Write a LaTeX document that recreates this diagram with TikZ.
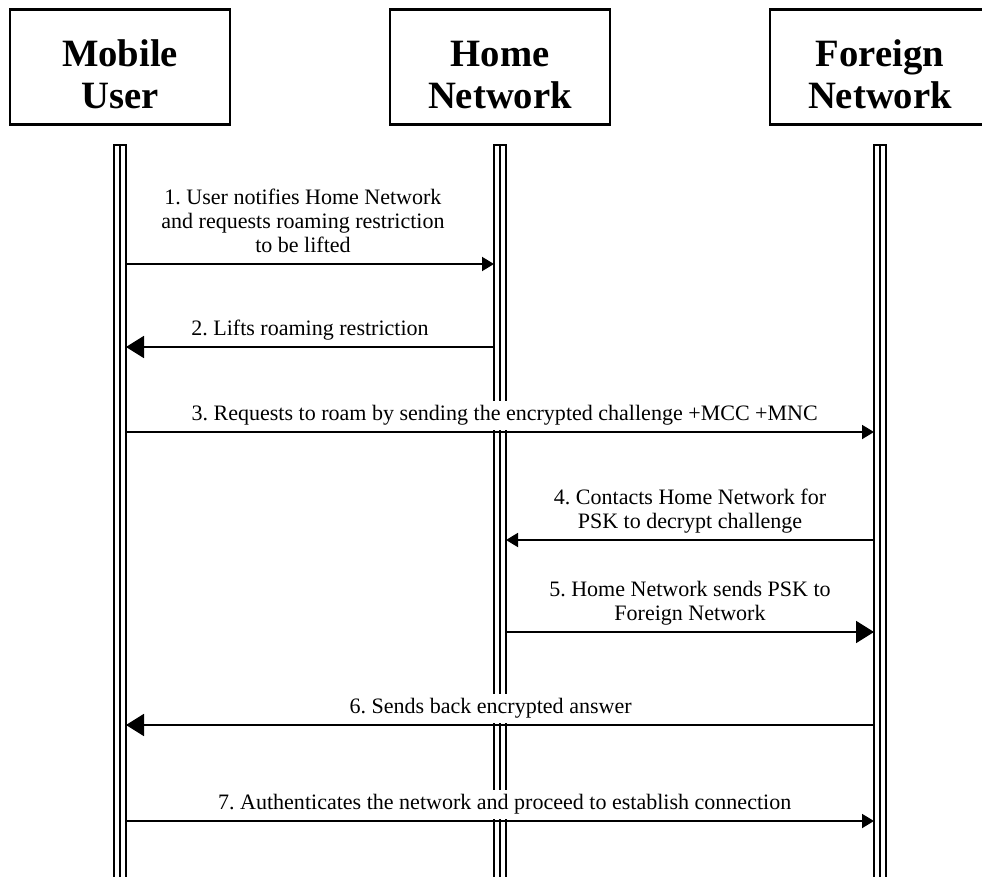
\documentclass[tikz,border=0pt]{standalone}
\usepackage{fontspec}
\setmainfont{Liberation Serif}
\usetikzlibrary{arrows.meta,positioning}
\frenchspacing

\tikzset{
	head/.style={draw, line width=2.5pt, minimum width=6.6cm, minimum height=3.45cm, align=center, font=\fontsize{33}{36}\selectfont\bfseries},
	life/.style={line width=1.3pt},
	msg/.style={line width=1.6pt, -{Triangle[length=0.36cm, width=0.42cm]}},
	bigmsg/.style={line width=1.6pt, -{Triangle[length=0.54cm, width=0.66cm]}},
	lbl/.style={fill=white, inner xsep=2pt, inner ysep=2pt, align=center, font=\fontsize{18.8}{20.4}\selectfont},
}

\begin{document}
\begin{tikzpicture}[x=0.03cm, y=-0.03cm]
			%%%%% START %%%%%
			\useasboundingbox (0, 0) rectangle (982, 877);
			\clip (0, 0) rectangle (982, 877);
			
			\node[head] (mu) at (120, 67) {\rule{0pt}{35pt}Mobile\\User};
			\node[head] (hn) at (500, 67) {\rule{0pt}{35pt}Home\\Network};
			\node[head] (fn) at (880, 67) {\rule{0pt}{35pt}Foreign\\Network};
			
			% lifelines
			\draw[life] (114, 880) -- (114, 145) -- (126, 145) -- (126, 880);
			\draw[life] (120, 145) -- (120, 880);
			\draw[life] (494, 880) -- (494, 145) -- (506, 145) -- (506, 880);
			\draw[life] (500, 145) -- (500, 880);
			\draw[life] (874, 880) -- (874, 145) -- (886, 145) -- (886, 880);
			\draw[life] (880, 145) -- (880, 880);
			
			% 1
			\coordinate (m1a) at (126, 264);
			\coordinate (m1b) at (494, 264);
			\draw[msg] (m1a) -- (m1b) node[lbl, midway, anchor=south, yshift=1, xshift=-6] (t1) {1. User notifies Home Network\\and requests roaming restriction\\to be lifted\strut};
			
			% 2
			\coordinate (m2a) at (494, 347);
			\coordinate (m2b) at (126, 347);
			\draw[bigmsg] (m2a) -- (m2b) node[lbl, midway, anchor=south, yshift=1] (t2) {2. Lifts roaming restriction\strut};
			
			% 3
			\coordinate (m3a) at (126, 432);
			\coordinate (m3b) at (874, 432);
			\draw[msg] (m3a) -- (m3b) node[lbl, midway, anchor=south, yshift=1, xshift=4] (t3) {3. Requests to roam by sending the encrypted challenge +MCC +MNC\strut};
			
			% 4
			\coordinate (m4a) at (874, 540);
			\coordinate (m4b) at (506, 540);
			\draw[msg] (m4a) -- (m4b) node[lbl, midway, anchor=south, yshift=1] (t4) {4. Contacts Home Network for\\PSK to decrypt challenge\strut};
			
			% 5
			\coordinate (m5a) at (506, 632);
			\coordinate (m5b) at (874, 632);
			\draw[bigmsg] (m5a) -- (m5b) node[lbl, midway, anchor=south, yshift=1] (t5) {5. Home Network sends PSK to\\Foreign Network\strut};
			
			% 6
			\coordinate (m6a) at (874, 725);
			\coordinate (m6b) at (126, 725);
			\draw[bigmsg] (m6a) -- (m6b) node[lbl, midway, anchor=south, yshift=1, xshift=-8] (t6) {6. Sends back encrypted answer\strut};
			
			% 7
			\coordinate (m7a) at (126, 821);
			\coordinate (m7b) at (874, 821);
			\draw[msg] (m7a) -- (m7b) node[lbl, midway, anchor=south, yshift=1, xshift=4] (t7) {7. Authenticates the network and proceed to establish connection\strut};
			%%%%% END %%%%%
\end{tikzpicture}
\end{document}
